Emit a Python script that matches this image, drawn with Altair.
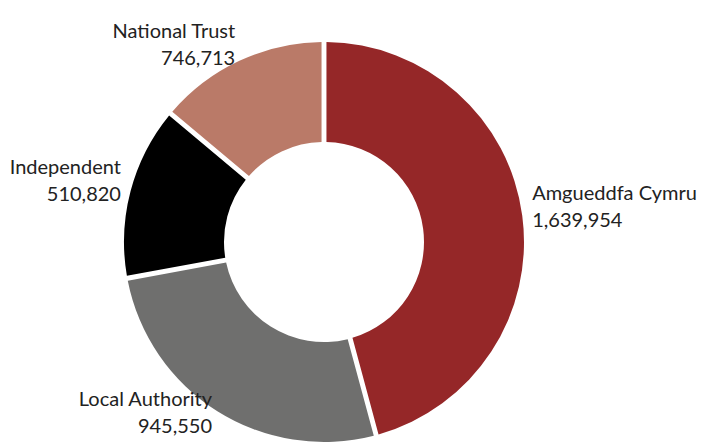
import altair as alt
import pandas as pd

# Data
categories = ["Amgueddfa Cymru", "Local Authority", "Independent", "National Trust"]
visitor_counts = [1639954, 945550, 510820, 746713]      # label values
slice_share = [45.8, 26.3, 14.0, 13.9]                   # slice sizes as drawn (% of circle)
colors = ["#952728", "#6f6f6e", "#000000", "#ba7a68"]

df = pd.DataFrame({
    "category": categories,
    "count": visitor_counts,
    "share": slice_share,
    "order": list(range(len(categories))),
})
df["mid"] = df["share"].cumsum() - df["share"] / 2
df["label"] = [f"{c}\n{n:,}" for c, n in zip(df["category"], df["count"])]
df["label_right"] = [l if m < 50 else "" for l, m in zip(df["label"], df["mid"])]
df["label_left"] = [l if m >= 50 else "" for l, m in zip(df["label"], df["mid"])]

base = alt.Chart(df).encode(
    theta=alt.Theta("share:Q", stack=True),
    order=alt.Order("order:Q", sort="ascending"),
    x=alt.value(316),
    y=alt.value(234),
)

arcs = base.mark_arc(innerRadius=100, outerRadius=200, padAngle=0.022).encode(
    color=alt.Color("category:N", scale=alt.Scale(domain=categories, range=colors), legend=None)
)

text_style = dict(radius=210, dy=-20, baseline="middle", lineBreak="\n", font="Lato",
                  fontSize=20, fontWeight="normal", color="#222222", lineHeight=27)

text_r = base.mark_text(align="left", **text_style).encode(text="label_right:N")
text_l = base.mark_text(align="right", **text_style).encode(text="label_left:N")

chart = alt.layer(arcs, text_r, text_l).properties(
    width=700, height=440, padding=0, autosize="none"
).configure_view(stroke=None)

chart.save("out.html", embed_options={"renderer": "svg", "actions": False})
